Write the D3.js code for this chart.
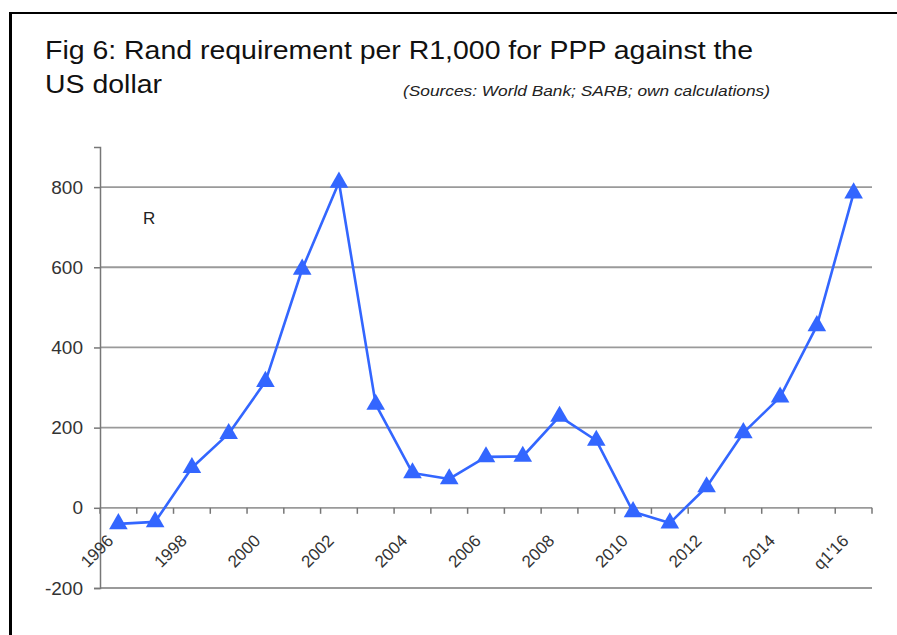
<!DOCTYPE html>
<html>
<head>
<meta charset="utf-8">
<script src="https://cdn.jsdelivr.net/npm/d3@7"></script>
<style>
  html, body { margin: 0; padding: 0; background: #fff; }
  svg { display: block; }
  text { font-family: "Liberation Sans", Arial, sans-serif; }
</style>
</head>
<body>
<svg id="chart" width="897" height="635"></svg>
<script>
// Rand requirement per R1,000 for PPP against the US dollar
const categories = ["1996","1997","1998","1999","2000","2001","2002","2003","2004","2005",
                    "2006","2007","2008","2009","2010","2011","2012","2013","2014","2015","q1'16"];
const randValues = [-40, -35, 100, 185, 315, 595, 812, 258, 87, 72,
                    127, 128, 228, 168, -10, -38, 52, 187, 276, 454, 785];
const tickLabels = ["1996","1998","2000","2002","2004","2006","2008","2010","2012","2014","q1'16"];
const yTicks = [-200, 0, 200, 400, 600, 800];

const svg = d3.select("#chart");
const plot = { left: 100, right: 872, top: 147, bottom: 588 };

// frame (left and top rules)
svg.append("line").attr("x1", 10.5).attr("x2", 10.5).attr("y1", 12).attr("y2", 635)
  .attr("stroke", "#000").attr("stroke-width", 3);
svg.append("line").attr("x1", 9).attr("x2", 897).attr("y1", 13).attr("y2", 13)
  .attr("stroke", "#000").attr("stroke-width", 2);

// title
svg.append("text").attr("x", 45).attr("y", 59).attr("font-size", 26).attr("fill", "#111")
  .attr("textLength", 708).attr("lengthAdjust", "spacingAndGlyphs")
  .text("Fig 6: Rand requirement per R1,000 for PPP against the");
svg.append("text").attr("x", 45).attr("y", 93).attr("font-size", 26).attr("fill", "#111")
  .attr("textLength", 117).attr("lengthAdjust", "spacingAndGlyphs")
  .text("US dollar");
svg.append("text").attr("x", 403).attr("y", 96).attr("font-size", 14.5)
  .attr("font-style", "italic").attr("fill", "#222")
  .attr("textLength", 367).attr("lengthAdjust", "spacingAndGlyphs")
  .text("(Sources: World Bank; SARB; own calculations)");

// scales
const x = d3.scaleBand().domain(categories).range([plot.left, plot.right]);
const y = d3.scaleLinear().domain([-200, 900]).range([plot.bottom, plot.top]);

// horizontal gridlines
svg.append("g").selectAll("line").data(yTicks).join("line")
  .attr("x1", plot.left).attr("x2", plot.right)
  .attr("y1", d => y(d)).attr("y2", d => y(d))
  .attr("stroke", "#9a9a9a").attr("stroke-width", 1.8);

// y axis
const yAxis = svg.append("g").attr("transform", `translate(${plot.left},0)`)
  .call(d3.axisLeft(y).tickValues(yTicks).tickSize(6).tickPadding(11).tickFormat(d => String(d)));
yAxis.select(".domain").attr("stroke", "#777").attr("stroke-width", 1.5);
yAxis.selectAll(".tick line").attr("stroke", "#777").attr("stroke-width", 1.5);
yAxis.selectAll(".tick text").attr("font-size", 19).attr("fill", "#333")
  .attr("font-family", "'Liberation Sans', Arial, sans-serif");

// x axis along zero line, ticks at band boundaries
const boundaries = categories.map(c => x(c)).concat([plot.right]);
svg.append("g").selectAll("line").data(boundaries).join("line")
  .attr("x1", d => d).attr("x2", d => d)
  .attr("y1", y(0)).attr("y2", y(0) + 6)
  .attr("stroke", "#777").attr("stroke-width", 1.5);

// rotated year labels
svg.append("g").selectAll("text").data(tickLabels).join("text")
  .attr("transform", d => `translate(${x(d) + x.bandwidth() / 2 - 4},${y(0) + 34}) rotate(-45)`)
  .attr("text-anchor", "end")
  .attr("font-size", 17).attr("fill", "#333")
  .text(d => d);

// unit label
svg.append("text").attr("x", 143).attr("y", 224).attr("font-size", 17).attr("fill", "#222").text("R");

// series line
const pts = categories.map((c, i) => [x(c) + x.bandwidth() / 2, y(randValues[i])]);
svg.append("path").datum(pts)
  .attr("d", d3.line())
  .attr("fill", "none").attr("stroke", "#3366ff").attr("stroke-width", 2.6)
  .attr("stroke-linejoin", "round");

// triangle markers
const tri = d3.symbol().type(d3.symbolTriangle).size(150);
svg.append("g").selectAll("path").data(pts).join("path")
  .attr("transform", d => `translate(${d[0]},${d[1]})`)
  .attr("d", tri)
  .attr("fill", "#3366ff");
</script>
</body>
</html>
